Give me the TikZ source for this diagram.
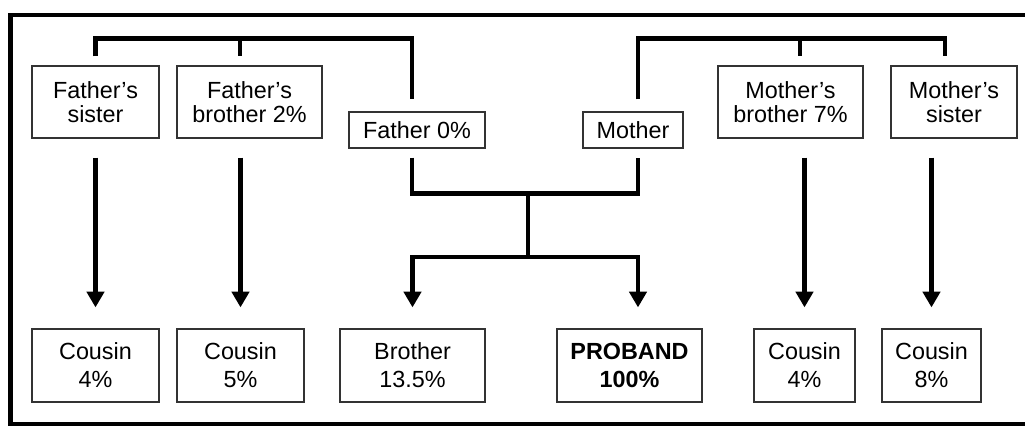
\documentclass[tikz,border=0pt]{standalone}
\usepackage{fontspec}
\setmainfont{Liberation Sans}
\usetikzlibrary{arrows.meta,calc}
\tikzset{kin/.style={draw=black!80,line width=0.7pt,align=center,inner sep=0pt,
  font=\fontsize{13.3}{13.8}\selectfont,minimum width=#1,minimum height=14.4mm}}
\tikzset{cousin/.style={kin=#1,font=\fontsize{13.3}{16}\selectfont,minimum height=14.6mm}}
\tikzset{link/.style={line width=2.7pt}}
\tikzset{>={Triangle[width=9.8pt,length=9pt]}}
\tikzset{descent/.style={link,->,shorten <=3.8mm,shorten >=4.2mm}}

\begin{document}
\begin{tikzpicture}[x=0.02cm,y=-0.02cm]
\useasboundingbox (0,0) rectangle (1025,426);
\draw[line width=2.3pt] (10.5,15.3) rectangle (1040,424.5);

% parents and their siblings
\node[kin=25.4mm] (fsis) at (95.5,102) {Father’s\\sister};
\node[kin=29mm] (fbro) at (249.5,102) {Father’s\\brother 2\%};
\node[kin=27.2mm,minimum height=7.2mm] (fa) at (417,130) {Father 0\%};
\node[kin=20mm,minimum height=7.2mm] (mo) at (633,130) {Mother};
\node[kin=29mm] (mbro) at (790.5,102) {Mother’s\\brother 7\%};
\node[kin=25.2mm] (msis) at (954,102) {Mother’s\\sister};

% children
\node[cousin=25.4mm] (c1) at (95.5,365.5) {Cousin\\4\%};
\node[cousin=25.4mm] (c2) at (240.5,365.5) {Cousin\\5\%};
\node[cousin=29mm] (bro) at (412.5,365.5) {Brother\\13.5\%};
\node[cousin=29mm,font=\fontsize{13.3}{16}\selectfont\bfseries] (pro) at (629.5,365.5) {PROBAND\\100\%};
\node[cousin=20.2mm] (c3) at (804.5,365.5) {Cousin\\4\%};
\node[cousin=19.8mm] (c4) at (931.5,365.5) {Cousin\\8\%};

% sibships
\draw[link] ($(fsis.north)+(0,-9)$) |- ($(fa.north)+(-5,-73)$) -- ($(fa.north)+(-5,-12)$);
\draw[link] ($(fbro.north)+(-9.5,-27)$) -- ($(fbro.north)+(-9.5,-9)$);
\draw[link] ($(mo.north)+(5,-12)$) |- ($(msis.north)+(-9,-27)$) -- ($(msis.north)+(-9,-9)$);
\draw[link] ($(mbro.north)+(9.5,-27)$) -- ($(mbro.north)+(9.5,-9)$);

% marriage and offspring
\draw[link] ($(fa.south)+(-5,9)$) |- ($(mo.south)+(5,45)$) -- ($(mo.south)+(5,9)$);
\coordinate (kids) at (528,257);
\draw[link] (kids) -- ++(0,-64);
\draw[link,<->] ($(bro.north)+(0,-21)$) |- (kids) -| ($(pro.north)+(8.5,-21)$);

% cousins
\draw[descent] (fsis.south) -- (c1.north);
\draw[descent] (fbro.south -| c2.north) -- (c2.north);
\draw[descent] (mbro.south -| c3.north) -- (c3.north);
\draw[descent] (msis.south -| c4.north) -- (c4.north);
\end{tikzpicture}
\end{document}
